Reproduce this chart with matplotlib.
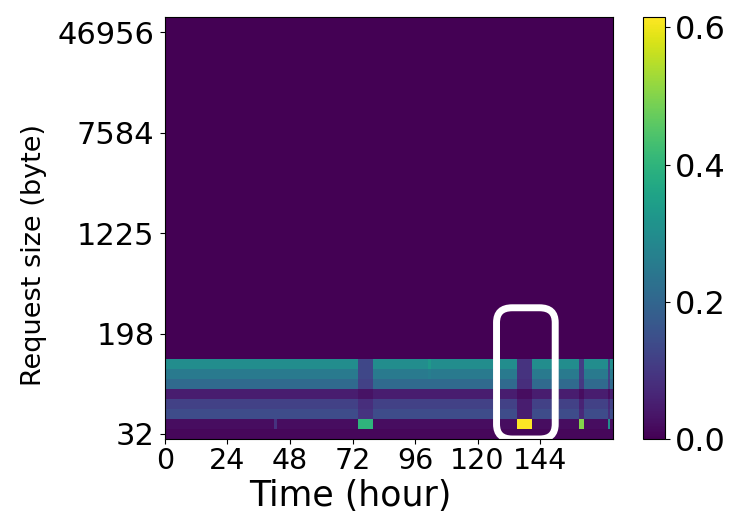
import numpy as np
import matplotlib
matplotlib.use("Agg")
import matplotlib.pyplot as plt
from matplotlib.patches import FancyBboxPatch

# heatmap shape: hourly columns, log-spaced request size bins (rows)
n_hours = 172
n_bins = 42
size_labels = ["32", "198", "1225", "7584", "46956"]
size_tick_bins = [0, 10, 20, 30, 40]
hour_ticks = [0, 24, 48, 72, 96, 120, 144]
cbar_ticks = [0.0, 0.2, 0.4, 0.6]

# share of requests in the 8 smallest bins (bottom row first) in a normal hour
normal_col = [0.01, 0.02, 0.14, 0.12, 0.05, 0.21, 0.25, 0.30]

# hours where the smallest requests burst, and the column seen there
burst_hours = [(74, 80), (135, 141), (159, 161), (170, 171)]
burst_cols = [
    [0.01, 0.40, 0.09, 0.08, 0.03, 0.12, 0.13, 0.13],
    [0.01, 0.615, 0.05, 0.05, 0.02, 0.08, 0.09, 0.09],
    [0.01, 0.50, 0.07, 0.06, 0.02, 0.10, 0.11, 0.11],
    [0.01, 0.30, 0.08, 0.07, 0.02, 0.11, 0.12, 0.12],
]

# single hours that look a bit lighter
minor_hours = [42, 101]
minor_cols = [
    [0.01, 0.09, 0.14, 0.12, 0.05, 0.21, 0.25, 0.30],
    [0.01, 0.02, 0.14, 0.12, 0.05, 0.21, 0.26, 0.33],
]

grid = np.zeros((n_bins, n_hours))
grid[:len(normal_col), :] = np.array(normal_col)[:, None]
for (a, b), col in zip(burst_hours, burst_cols):
    grid[:len(col), a:b] = np.array(col)[:, None]
for h, col in zip(minor_hours, minor_cols):
    grid[:len(col), h] = col

fig = plt.figure(figsize=(7.29, 5.14), dpi=100)
ax = fig.add_axes([0.2263, 0.1459, 0.6146, 0.8210])
cax = fig.add_axes([0.882, 0.1459, 0.030, 0.8210])

mesh = ax.pcolormesh(np.arange(n_hours + 1), np.arange(n_bins + 1), grid,
                     cmap="viridis", vmin=0, vmax=grid.max())
ax.set_xlim(0, n_hours)
ax.set_ylim(0, n_bins)
ax.set_xticks(hour_ticks)
ax.set_xticklabels([str(h) for h in hour_ticks], fontsize=20.5)
ax.set_yticks(np.array(size_tick_bins) + 0.5)
ax.set_yticklabels(size_labels, fontsize=22)
ax.tick_params(axis="x", pad=2)
ax.tick_params(axis="y", pad=4)
ax.set_xlabel("Time (hour)", fontsize=25)
ax.xaxis.set_label_coords(0.413, -0.095)
ax.set_ylabel("Request size (byte)", fontsize=19.5)
ax.yaxis.set_label_coords(-0.263, 0.436)

cb = fig.colorbar(mesh, cax=cax, ticks=cbar_ticks)
cb.ax.set_yticklabels(["%.1f" % t for t in cbar_ticks], fontsize=23)
cb.outline.set_linewidth(0.8)

# highlight box around the burst near hour 136
box = FancyBboxPatch((0.740, 0.0), 0.131, 0.311, transform=ax.transAxes,
                     boxstyle="round,pad=0,rounding_size=0.035",
                     fill=False, edgecolor="white", linewidth=5, clip_on=False)
ax.add_patch(box)

fig.savefig("out.png", dpi=100)
